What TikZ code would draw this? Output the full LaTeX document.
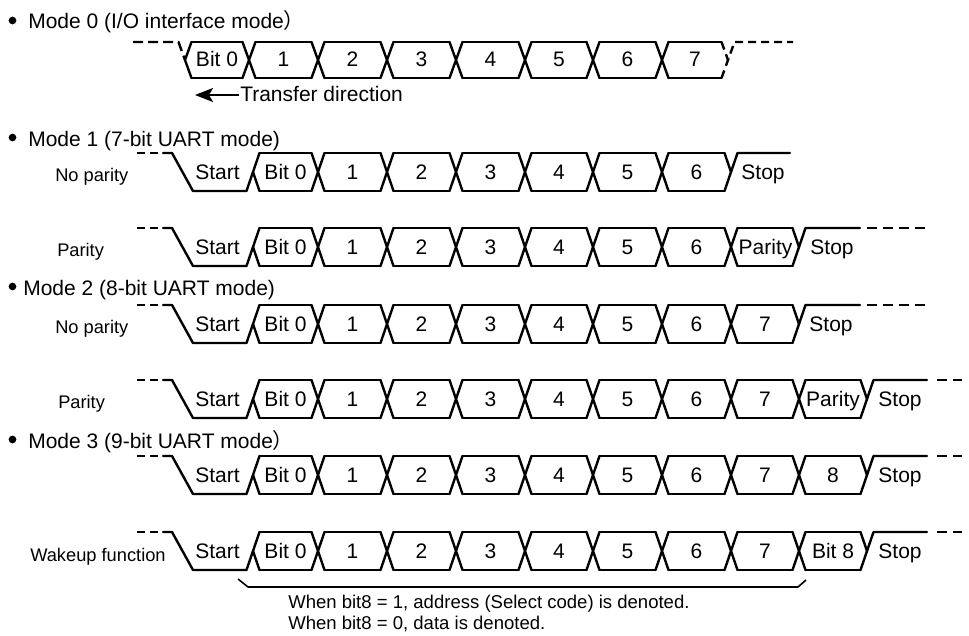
\documentclass[tikz,border=0pt]{standalone}
\usepackage{fontspec}
\setmainfont{Liberation Sans}
\newfontfamily\cjk{Noto Sans CJK JP}
\usetikzlibrary{arrows.meta}
\newcommand\wfont{\fontsize{15.75}{18}\selectfont}
\newcommand\lfont{\fontsize{13.7}{16}\selectfont}
\newcommand\nfont{\fontsize{13.9}{16}\selectfont}
\def\hw{6.5}
% cells: #1 top, #2 bottom, #3 list a/b
\newcommand\wcells[3]{\foreach \a/\b in {#3}{\draw[wv] (\a+\hw,#1)--(\b-\hw,#1) (\a+\hw,#2)--(\b-\hw,#2);}}
% full crossings
\newcommand\wcross[3]{\foreach \c in {#3}{\draw[wv] (\c-\hw,#1)--(\c+\hw,#2) (\c-\hw,#2)--(\c+\hw,#1);}}
% start edge
\newcommand\wstart[2]{%
  \draw[wv,line cap=butt,dash pattern=on 6pt off 3.75pt] (137,#1)--(161,#1);
  \draw[wv] (163,#1)--(172,#1)--(193,#2)--(253-\hw,#2)--(253+\hw,#1);
  \draw[wv] (253,{(#1+#2)/2})--(253+\hw,#2);}
% stop edge: #1 top, #2 bottom, #3 x of Y, #4 end of solid line
\newcommand\wstop[4]{%
  \draw[wv] (#3-\hw,#1)--(#3,{(#1+#2)/2});
  \draw[wv] (#3-\hw,#2)--(#3+\hw,#1)--(#4,#1);}
\newcommand\wtail[3]{\draw[wv,line cap=butt,dash pattern=on 7.5pt off 4.5pt] (#2,#1)--(#3,#1);}
\begin{document}
\begin{tikzpicture}[x=0.75pt,y=-0.75pt,
  wv/.style={line width=1.8pt,line cap=round,line join=round},
  wt/.style={font=\wfont,anchor=base,inner sep=0pt},
  lb/.style={font=\lfont,anchor=base west,inner sep=0pt},
  ti/.style={font=\wfont,anchor=base west,inner sep=0pt},
  nt/.style={font=\nfont,anchor=base west,inner sep=0pt},
  bul/.style={circle,fill,inner sep=0pt,minimum size=5.8pt}]
\useasboundingbox (0,0) rectangle (969,635);

% ---------------- Mode 0
\node[bul] (b0) at (12.5,20.5) {};
\node[ti] (t0) at (28,29) {Mode 0 (I/O interface mode{\cjk ）}};
\draw[wv,line cap=butt,dash pattern=on 7.5pt off 3.75pt] (133,42)--(185-\hw,42)--(185,60);
\draw[wv] (185+\hw,42)--(185,60)--(185+\hw,78);
\wcells{42}{78}{185/249,249/318,318/387,387/456,456/525,525/593,593/662,662/728}
\wcross{42}{78}{249,318,387,456,525,593,662}
\draw[wv,line cap=butt,dash pattern=on 6pt off 3.75pt] (728-\hw,42)--(728,60)--(728+\hw,42)--(793,42);
\draw[wv,line cap=butt,dash pattern=on 6pt off 3.75pt] (728-\hw,78)--(728,60);
\node[wt] (m0b0) at (217,66) {Bit 0};
\foreach \t/\x in {1/283.5,2/352.5,3/421.5,4/490.5,5/559,6/627.5,7/695}
  {\node[wt] (m0n\t) at (\x,66) {\t};}
\node[ti] (td) at (240,101.5) {Transfer direction};
\coordinate (tdfrom) at (239,95);
\coordinate (tdtip) at (195,95);
\draw[line width=1.3pt,-{Stealth[length=13.5pt,width=10.5pt,inset=3pt]}] (tdfrom)--(tdtip);

% ---------------- Mode 1
\node[bul] (b1) at (12.5,137.5) {};
\node[ti] (t1) at (28,146) {Mode 1 (7-bit UART mode)};
% no parity
\node[lb] (l1a) at (55,181) {No parity};
\wstart{153}{191}
\wcells{153}{191}{253/318,318/387,387/456,456/525,525/593,593/662,662/731}
\wcross{153}{191}{318,387,456,525,593,662}
\wstop{153}{191}{731}{790}
\node[wt] (m1as) at (217.5,179.5) {Start};
\node[wt] (m1ab) at (285.5,179.5) {Bit 0};
\foreach \t/\x in {1/352.5,2/421.5,3/490.5,4/559,5/627.5,6/696.5}
  {\node[wt] (m1a\t) at (\x,179.5) {\t};}
\node[wt] (m1ap) at (763,179.5) {Stop};
% parity
\node[lb] (l1b) at (57,256) {Parity};
\wstart{228}{266}
\wcells{228}{266}{253/318,318/387,387/456,456/525,525/593,593/662,662/731,731/799}
\wcross{228}{266}{318,387,456,525,593,662,731}
\wstop{228}{266}{799}{860}
\wtail{228}{867}{925}
\node[wt] (m1bs) at (217.5,254.5) {Start};
\node[wt] (m1bb) at (285.5,254.5) {Bit 0};
\foreach \t/\x in {1/352.5,2/421.5,3/490.5,4/559,5/627.5,6/696.5}
  {\node[wt] (m1b\t) at (\x,254.5) {\t};}
\node[wt] (m1bpar) at (765.5,254.5) {Parity};
\node[wt] (m1bp) at (832,254.5) {Stop};

% ---------------- Mode 2
\node[bul] (b2) at (12.5,286.5) {};
\node[ti] (t2) at (23,295) {Mode 2 (8-bit UART mode)};
% no parity
\node[lb] (l2a) at (55,333) {No parity};
\wstart{305}{343}
\wcells{305}{343}{253/318,318/387,387/456,456/525,525/593,593/662,662/731,731/799}
\wcross{305}{343}{318,387,456,525,593,662,731}
\wstop{305}{343}{799}{860}
\wtail{305}{867}{925}
\node[wt] (m2as) at (217.5,331.5) {Start};
\node[wt] (m2ab) at (285.5,331.5) {Bit 0};
\foreach \t/\x in {1/352.5,2/421.5,3/490.5,4/559,5/627.5,6/696.5,7/765}
  {\node[wt] (m2a\t) at (\x,331.5) {\t};}
\node[wt] (m2ap) at (831,331.5) {Stop};
% parity
\node[lb] (l2b) at (58,408) {Parity};
\wstart{380}{418}
\wcells{380}{418}{253/318,318/387,387/456,456/525,525/593,593/662,662/731,731/799,799/867}
\wcross{380}{418}{318,387,456,525,593,662,731,799}
\wstop{380}{418}{867}{927}
\wtail{380}{937}{962}
\node[wt] (m2bs) at (217.5,406.5) {Start};
\node[wt] (m2bb) at (285.5,406.5) {Bit 0};
\foreach \t/\x in {1/352.5,2/421.5,3/490.5,4/559,5/627.5,6/696.5,7/765}
  {\node[wt] (m2b\t) at (\x,406.5) {\t};}
\node[wt] (m2bpar) at (833,406.5) {Parity};
\node[wt] (m2bp) at (900,406.5) {Stop};

% ---------------- Mode 3
\node[bul] (b3) at (12.5,439.5) {};
\node[ti] (t3) at (28,448) {Mode 3 (9-bit UART mode{\cjk ）}};
% plain
\wstart{456}{494}
\wcells{456}{494}{253/318,318/387,387/456,456/525,525/593,593/662,662/731,731/799,799/867}
\wcross{456}{494}{318,387,456,525,593,662,731,799}
\wstop{456}{494}{867}{927}
\wtail{456}{937}{962}
\node[wt] (m3as) at (217.5,482.5) {Start};
\node[wt] (m3ab) at (285.5,482.5) {Bit 0};
\foreach \t/\x in {1/352.5,2/421.5,3/490.5,4/559,5/627.5,6/696.5,7/765,8/833}
  {\node[wt] (m3a\t) at (\x,482.5) {\t};}
\node[wt] (m3ap) at (900,482.5) {Stop};
% wakeup
\node[lb] (l3b) at (30,561) {Wakeup function};
\wstart{532}{570}
\wcells{532}{570}{253/318,318/387,387/456,456/525,525/593,593/662,662/731,731/799,799/867}
\wcross{532}{570}{318,387,456,525,593,662,731,799}
\wstop{532}{570}{867}{927}
\wtail{532}{937}{962}
\node[wt] (m3bs) at (217.5,558.5) {Start};
\node[wt] (m3bb) at (285.5,558.5) {Bit 0};
\foreach \t/\x in {1/352.5,2/421.5,3/490.5,4/559,5/627.5,6/696.5,7/765}
  {\node[wt] (m3b\t) at (\x,558.5) {\t};}
\node[wt] (m3b8) at (833,558.5) {Bit 8};
\node[wt] (m3bp) at (900,558.5) {Stop};

% brace
\coordinate (brl) at (238,579);
\coordinate (brl2) at (248,587);
\coordinate (brr2) at (798,587);
\coordinate (brr) at (806,580);
\draw[line width=1.2pt,line join=round] (brl)--(brl2)--(brr2)--(brr);
\node[nt] (n1) at (288,608) {When bit8 = 1, address (Select code) is denoted.};
\node[nt] (n2) at (288,629) {When bit8 = 0, data is denoted.};
\end{tikzpicture}
\end{document}
